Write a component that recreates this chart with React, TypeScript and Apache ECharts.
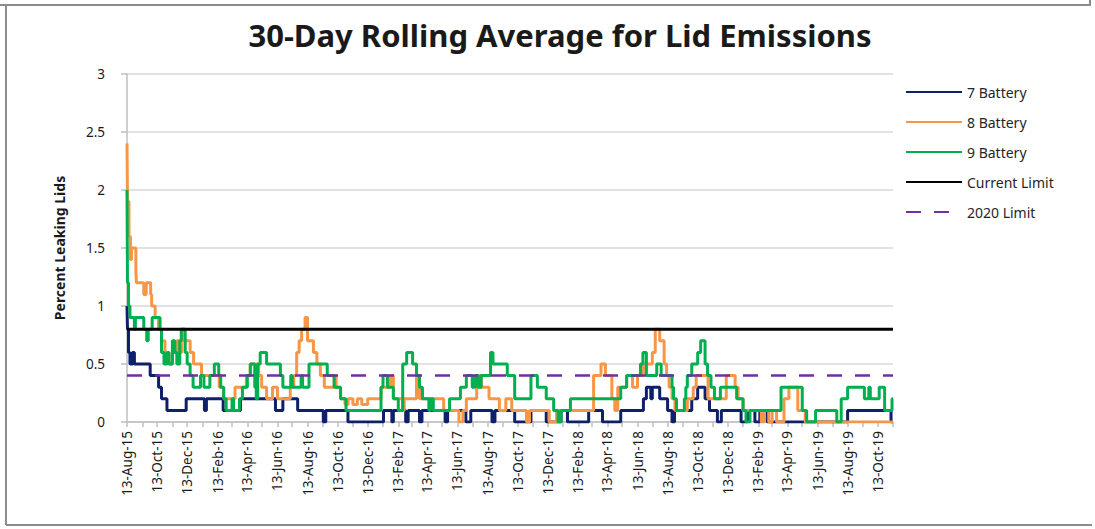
import React, { useEffect, useRef } from "react";
import * as echarts from "echarts";

const START_DATE = "2015-08-13";
const END_DATE = "2019-11-13";
const MONTHS = ["Jan", "Feb", "Mar", "Apr", "May", "Jun", "Jul", "Aug", "Sep", "Oct", "Nov", "Dec"];
const Y_TICKS = [0, 0.5, 1, 1.5, 2, 2.5, 3];
const CURRENT_LIMIT = 0.8;
const LIMIT_2020 = 0.4;

// change points: [date the value starts, 30-day rolling value]
const battery7: [string, number][] = [
  ["2015-08-13", 1.0], ["2015-08-14", 0.8], ["2015-08-16", 0.6], ["2015-08-19", 0.5], ["2015-08-24", 0.6],
  ["2015-08-28", 0.5], ["2015-09-29", 0.4], ["2015-10-16", 0.3], ["2015-10-22", 0.2], ["2015-11-02", 0.1],
  ["2015-12-11", 0.2], ["2016-01-17", 0.1], ["2016-01-21", 0.2], ["2016-02-24", 0.1], ["2016-03-30", 0.2],
  ["2016-06-09", 0.1], ["2016-06-24", 0.2], ["2016-07-24", 0.1], ["2016-09-14", 0], ["2016-09-19", 0.1],
  ["2016-11-03", 0], ["2017-01-14", 0.1], ["2017-01-31", 0], ["2017-02-03", 0.1], ["2017-02-28", 0],
  ["2017-03-05", 0.1], ["2017-03-28", 0], ["2017-04-02", 0.1], ["2017-05-19", 0], ["2017-05-24", 0.1],
  ["2017-06-30", 0], ["2017-07-10", 0.1], ["2017-08-22", 0], ["2017-08-28", 0.1], ["2017-10-07", 0],
  ["2017-11-09", 0.1], ["2017-12-10", 0], ["2018-01-09", 0.1], ["2018-01-22", 0], ["2018-03-06", 0.1],
  ["2018-04-03", 0], ["2018-05-10", 0.1], ["2018-06-25", 0.2], ["2018-07-01", 0.3], ["2018-07-10", 0.2],
  ["2018-07-13", 0.3], ["2018-07-28", 0.2], ["2018-08-13", 0.1], ["2018-08-22", 0], ["2018-08-27", 0.1],
  ["2018-10-01", 0.2], ["2018-10-13", 0.3], ["2018-10-28", 0.2], ["2018-11-06", 0.1], ["2018-11-22", 0],
  ["2018-11-30", 0.1], ["2019-01-09", 0], ["2019-01-22", 0.1], ["2019-02-06", 0], ["2019-02-16", 0.1],
  ["2019-03-03", 0], ["2019-08-13", 0.1], ["2019-11-09", 0], ["2019-11-13", 0],
];

const battery8: [string, number][] = [
  ["2015-08-13", 2.4], ["2015-08-14", 1.9], ["2015-08-17", 1.6], ["2015-08-20", 1.4], ["2015-08-22", 1.5],
  ["2015-08-31", 1.3], ["2015-09-01", 1.2], ["2015-09-16", 1.1], ["2015-09-21", 1.2], ["2015-09-30", 1.1],
  ["2015-10-02", 1.0], ["2015-10-09", 0.9], ["2015-10-16", 0.8], ["2015-10-22", 0.7], ["2015-10-29", 0.6],
  ["2015-11-06", 0.5], ["2015-11-13", 0.6], ["2015-11-22", 0.7], ["2015-11-28", 0.6], ["2015-12-02", 0.8],
  ["2015-12-07", 0.7], ["2015-12-19", 0.6], ["2015-12-26", 0.5], ["2016-01-11", 0.4], ["2016-02-16", 0.3],
  ["2016-02-25", 0.2], ["2016-03-19", 0.3], ["2016-04-11", 0.4], ["2016-04-19", 0.5], ["2016-05-06", 0.4],
  ["2016-05-12", 0.3], ["2016-05-22", 0.2], ["2016-06-03", 0.3], ["2016-06-13", 0.2], ["2016-07-09", 0.3],
  ["2016-07-16", 0.4], ["2016-07-22", 0.6], ["2016-07-27", 0.7], ["2016-08-01", 0.8], ["2016-08-08", 0.9],
  ["2016-08-13", 0.7], ["2016-08-25", 0.6], ["2016-09-01", 0.5], ["2016-09-08", 0.4], ["2016-09-16", 0.3],
  ["2016-10-06", 0.4], ["2016-10-10", 0.3], ["2016-10-19", 0.2], ["2016-10-28", 0.15], ["2016-11-03", 0.2],
  ["2016-11-13", 0.15], ["2016-11-22", 0.2], ["2016-12-01", 0.15], ["2016-12-13", 0.2], ["2017-01-09", 0.3],
  ["2017-01-28", 0.4], ["2017-02-03", 0.2], ["2017-02-22", 0.1], ["2017-02-25", 0.2], ["2017-03-22", 0.4],
  ["2017-03-28", 0.2], ["2017-05-16", 0.1], ["2017-06-16", 0], ["2017-06-24", 0.1], ["2017-07-01", 0.2],
  ["2017-07-22", 0.4], ["2017-07-31", 0.3], ["2017-08-16", 0.2], ["2017-09-06", 0.1], ["2017-09-19", 0.2],
  ["2017-10-01", 0.1], ["2017-10-31", 0], ["2017-11-06", 0.1], ["2017-12-16", 0], ["2017-12-31", 0.1],
  ["2018-03-16", 0.4], ["2018-03-31", 0.5], ["2018-04-09", 0.4], ["2018-04-22", 0.2], ["2018-04-28", 0.1],
  ["2018-05-04", 0.3], ["2018-05-22", 0.4], ["2018-06-03", 0.3], ["2018-06-13", 0.4], ["2018-06-25", 0.5],
  ["2018-07-13", 0.6], ["2018-07-19", 0.8], ["2018-07-28", 0.7], ["2018-08-06", 0.5], ["2018-08-11", 0.4],
  ["2018-08-16", 0.3], ["2018-08-22", 0.2], ["2018-08-28", 0.1], ["2018-09-22", 0.2], ["2018-10-04", 0.3],
  ["2018-10-10", 0.4], ["2018-11-03", 0.2], ["2018-12-10", 0.4], ["2018-12-28", 0.3], ["2019-01-03", 0.2],
  ["2019-01-13", 0.1], ["2019-02-19", 0], ["2019-02-25", 0.1], ["2019-03-06", 0], ["2019-03-13", 0.1],
  ["2019-03-22", 0], ["2019-04-06", 0.2], ["2019-04-16", 0.3], ["2019-05-04", 0.1], ["2019-05-19", 0],
  ["2019-11-13", 0],
];

const battery9: [string, number][] = [
  ["2015-08-13", 2.0], ["2015-08-14", 1.2], ["2015-08-16", 1.0], ["2015-08-19", 0.9], ["2015-08-28", 0.8],
  ["2015-08-30", 0.9], ["2015-09-16", 0.8], ["2015-09-22", 0.7], ["2015-09-25", 0.8], ["2015-10-03", 0.9],
  ["2015-10-19", 0.8], ["2015-10-22", 0.6], ["2015-10-27", 0.5], ["2015-11-02", 0.6], ["2015-11-06", 0.5],
  ["2015-11-13", 0.7], ["2015-11-18", 0.6], ["2015-11-22", 0.5], ["2015-11-28", 0.7], ["2015-12-01", 0.8],
  ["2015-12-09", 0.6], ["2015-12-13", 0.5], ["2015-12-19", 0.4], ["2015-12-25", 0.3], ["2016-01-09", 0.4],
  ["2016-01-16", 0.3], ["2016-01-28", 0.4], ["2016-02-06", 0.5], ["2016-02-15", 0.4], ["2016-02-19", 0.3],
  ["2016-02-25", 0.2], ["2016-03-01", 0.1], ["2016-03-13", 0.2], ["2016-03-16", 0.1], ["2016-03-28", 0.2],
  ["2016-04-03", 0.3], ["2016-04-13", 0.4], ["2016-04-19", 0.5], ["2016-04-28", 0.3], ["2016-05-01", 0.2],
  ["2016-05-04", 0.5], ["2016-05-09", 0.6], ["2016-05-22", 0.5], ["2016-06-19", 0.4], ["2016-06-24", 0.3],
  ["2016-07-10", 0.4], ["2016-07-13", 0.3], ["2016-07-31", 0.4], ["2016-08-03", 0.3], ["2016-08-16", 0.5],
  ["2016-09-22", 0.4], ["2016-10-06", 0.3], ["2016-10-19", 0.2], ["2016-10-30", 0.1], ["2017-01-09", 0.3],
  ["2017-01-13", 0.4], ["2017-01-22", 0.3], ["2017-02-03", 0.2], ["2017-02-13", 0.1], ["2017-02-22", 0.5],
  ["2017-03-02", 0.6], ["2017-03-14", 0.5], ["2017-03-22", 0.4], ["2017-03-28", 0.3], ["2017-04-03", 0.2],
  ["2017-04-16", 0.1], ["2017-04-19", 0.2], ["2017-04-25", 0.1], ["2017-05-28", 0.2], ["2017-06-19", 0.3],
  ["2017-07-01", 0.4], ["2017-07-13", 0.3], ["2017-07-19", 0.4], ["2017-07-25", 0.3], ["2017-07-31", 0.4],
  ["2017-08-19", 0.6], ["2017-08-24", 0.5], ["2017-09-22", 0.4], ["2017-10-07", 0.2], ["2017-11-09", 0.4],
  ["2017-11-22", 0.3], ["2017-12-10", 0.2], ["2017-12-25", 0.1], ["2018-01-03", 0], ["2018-01-09", 0.1],
  ["2018-01-28", 0.2], ["2018-05-10", 0.3], ["2018-05-22", 0.4], ["2018-06-19", 0.5], ["2018-06-24", 0.6],
  ["2018-07-01", 0.4], ["2018-07-22", 0.5], ["2018-07-31", 0.4], ["2018-08-22", 0.3], ["2018-08-25", 0.2],
  ["2018-08-31", 0.1], ["2018-09-16", 0.2], ["2018-09-19", 0.3], ["2018-09-22", 0.4], ["2018-10-01", 0.5],
  ["2018-10-13", 0.6], ["2018-10-19", 0.7], ["2018-10-28", 0.5], ["2018-11-02", 0.4], ["2018-11-09", 0.3],
  ["2018-11-16", 0.2], ["2018-11-28", 0.3], ["2018-12-31", 0.2], ["2019-01-13", 0.1], ["2019-01-19", 0],
  ["2019-01-27", 0.1], ["2019-03-31", 0.3], ["2019-05-13", 0.1], ["2019-05-22", 0], ["2019-06-09", 0.1],
  ["2019-07-22", 0], ["2019-07-31", 0.2], ["2019-08-13", 0.3], ["2019-09-16", 0.2], ["2019-09-25", 0.3],
  ["2019-09-28", 0.2], ["2019-10-16", 0.3], ["2019-10-27", 0.1], ["2019-11-11", 0.2], ["2019-11-13", 0.2],
];

const DAY = 86400000;
function parseUTC(s: string): number {
  const [y, m, d] = s.split("-").map(Number);
  return Date.UTC(y, m - 1, d);
}
const T0 = parseUTC(START_DATE);
const N = Math.round((parseUTC(END_DATE) - T0) / DAY) + 1;

const categories: string[] = [];
const tickIdx = new Set<number>();
const labelIdx = new Set<number>();
for (let i = 0; i < N; i++) {
  const dt = new Date(T0 + i * DAY);
  const d = dt.getUTCDate();
  const m = dt.getUTCMonth();
  const y = dt.getUTCFullYear();
  categories.push(`${d}-${MONTHS[m]}-${String(y).slice(2)}`);
  if (d === 13) {
    tickIdx.add(i);
    const mo = (y - 2015) * 12 + m - 7;
    if (mo % 2 === 0) labelIdx.add(i);
  }
}

const toPoints = (arr: [string, number][]) =>
  arr.map(([s, v]) => [Math.round((parseUTC(s) - T0) / DAY), v]);

const FONT = "'Noto Sans', 'Open Sans', sans-serif";

export default function App() {
  const ref = useRef<HTMLDivElement>(null);
  useEffect(() => {
    if (!ref.current) return;
    const chart = echarts.init(ref.current, undefined, { renderer: "svg" });
    const lineSeries = (name: string, data: any[], color: string, width: number, type: any = "solid", step: any = "end") => ({
      name,
      type: "line",
      data,
      step,
      symbol: "none",
      showSymbol: false,
      lineStyle: { color, width, type },
      itemStyle: { color },
      emphasis: { disabled: true },
      z: 2,
    });
    chart.setOption({
      animation: false,
      backgroundColor: "#ffffff",
      title: {
        text: "30-Day Rolling Average for Lid Emissions",
        left: 555,
        textAlign: "center",
        top: 14,
        textStyle: { fontFamily: FONT, fontSize: 31, fontWeight: "bold", color: "#1a1a1a" },
      },
      legend: {
        orient: "vertical",
        left: 900,
        top: 80,
        itemWidth: 56,
        itemHeight: 14,
        itemGap: 16,
        itemStyle: { opacity: 0, borderWidth: 0 },
        textStyle: { fontFamily: FONT, fontSize: 14, color: "#262626" },
        data: ["7 Battery", "8 Battery", "9 Battery", "Current Limit", "2020 Limit"],
      },
      grid: { left: 127, right: 202, top: 74, bottom: 107, containLabel: false },
      xAxis: {
        type: "category",
        data: categories,
        boundaryGap: false,
        axisLine: { lineStyle: { color: "#bfbfbf", width: 1.5 } },
        axisTick: {
          show: true,
          interval: (i: number) => tickIdx.has(i),
          length: 5,
          lineStyle: { color: "#bfbfbf", width: 1.5 },
        },
        axisLabel: {
          interval: (i: number) => labelIdx.has(i),
          rotate: 90,
          margin: 9,
          fontFamily: FONT,
          fontSize: 13.5,
          color: "#1a1a1a",
        },
        splitLine: { show: false },
      },
      yAxis: {
        type: "value",
        min: 0,
        max: 3,
        interval: 0.5,
        name: "Percent Leaking Lids",
        nameLocation: "middle",
        nameRotate: 90,
        nameGap: 61,
        nameTextStyle: { fontFamily: FONT, fontSize: 14, fontWeight: "bold", color: "#1a1a1a" },
        axisLine: { show: true, lineStyle: { color: "#bfbfbf", width: 1.5 } },
        axisTick: { show: true, length: 6, lineStyle: { color: "#bfbfbf", width: 1.5 } },
        axisLabel: {
          margin: 22,
          fontFamily: FONT,
          fontSize: 13.5,
          color: "#1a1a1a",
          formatter: (v: number) => (Y_TICKS.includes(v) ? String(v) : ""),
        },
        splitLine: { show: true, lineStyle: { color: "#d9d9d9", width: 1.5 } },
      },
      graphic: [
        { type: "line", shape: { x1: 0, y1: 5, x2: 1091, y2: 5 }, style: { stroke: "#8c8c8c", lineWidth: 2 } },
        { type: "line", shape: { x1: 6, y1: 5, x2: 6, y2: 525 }, style: { stroke: "#8c8c8c", lineWidth: 2 } },
        { type: "line", shape: { x1: 6, y1: 525, x2: 1092, y2: 525 }, style: { stroke: "#8c8c8c", lineWidth: 2 } },
        { type: "line", shape: { x1: 1090, y1: 0, x2: 1090, y2: 5 }, style: { stroke: "#8c8c8c", lineWidth: 2 } },
      ],
      series: [
        lineSeries("7 Battery", toPoints(battery7), "#0e1f6b", 3),
        lineSeries("8 Battery", toPoints(battery8), "#f79646", 3),
        lineSeries("9 Battery", toPoints(battery9), "#00b050", 3),
        lineSeries("Current Limit", [[0, CURRENT_LIMIT], [N - 1, CURRENT_LIMIT]], "#000000", 3, "solid", false),
        lineSeries("2020 Limit", [[0, LIMIT_2020], [N - 1, LIMIT_2020]], "#7030a0", 2.5, [15, 13], false),
      ],
    });
    return () => chart.dispose();
  }, []);
  return (
    <div
      ref={ref}
      style={{ position: "fixed", left: 0, top: 0, width: 1095, height: 529, background: "#fff" }}
    />
  );
}
